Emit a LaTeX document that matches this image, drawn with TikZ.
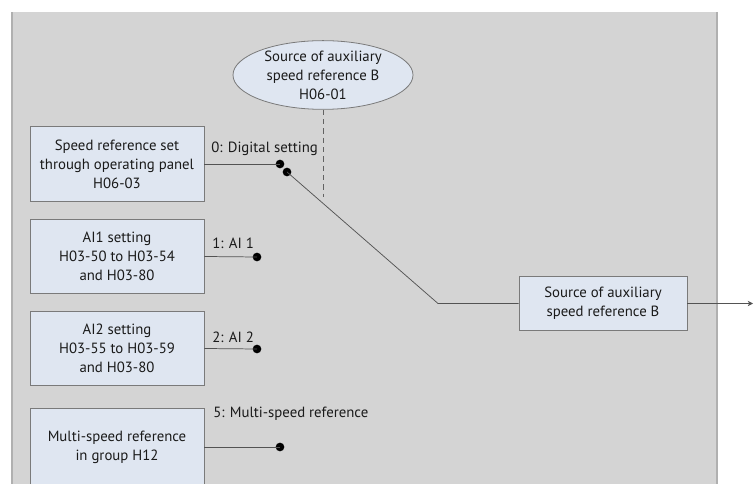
\documentclass[tikz,border=0pt]{standalone}
\usepackage{fontspec}
\setmainfont{PT Sans}
\usetikzlibrary{shapes.geometric,arrows.meta}
\definecolor{kpanel}{HTML}{D4D4D4}
\definecolor{kedge}{HTML}{B0B0B0}
\definecolor{kbox}{HTML}{DFE6F1}
\definecolor{kline}{HTML}{7A7A7A}
\definecolor{ki}{HTML}{1A1A1A}

\begin{document}
\begin{tikzpicture}[x=0.75pt,y=-0.75pt,
  srcbox/.style={draw=kline,fill=kbox,line width=0.6pt,minimum width=130.5pt,
    minimum height=56pt,align=center,text=ki,inner sep=1pt,
    font=\fontsize{11.1}{14.2}\selectfont},
  srcsel/.style={ellipse,draw=kline,fill=kbox,line width=0.6pt,minimum width=135pt,
    minimum height=47pt,align=center,text=ki,inner sep=0pt,
    font=\fontsize{11.1}{14.2}\selectfont},
  wire/.style={draw=ki!75,line width=0.55pt},
  contact/.style={circle,fill=black,inner sep=0pt,minimum size=6.5pt},
  choice/.style={anchor=west,text=ki,inner sep=0pt,font=\fontsize{11.1}{14.2}\selectfont}]
  \useasboundingbox (0,0) rectangle (754,484);
  \clip (0,0) rectangle (754,484);

  % grey background panel
  \fill[kpanel] (12,12) rectangle (718,490);
  \fill[kedge] (11,12) rectangle (12.5,490);
  \fill[kedge] (716,12) rectangle (718,490);

  % parameter that selects the source
  \node[srcsel] (sel) at (323,75) {Source of auxiliary\\speed reference B\\H06-01};

  % the four source blocks
  \node[srcbox] (panel) at (117,164) {Speed reference set\\through operating panel\\H06-03};
  \node[srcbox] (ai1)   at (117,256.5) {AI1 setting\\H03-50 to H03-54\\and H03-80};
  \node[srcbox] (ai2)   at (117,348.5) {AI2 setting\\H03-55 to H03-59\\and H03-80};
  \node[srcbox,minimum height=58.5pt] (multi) at (117,447) {Multi-speed reference\\in group H12};

  % result block
  \node[srcbox,minimum width=126pt,minimum height=41pt] (auxB) at (603,303.5)
    {Source of auxiliary\\speed reference B};

  % switch contacts
  \node[contact] (c0) at (280,164) {};
  \node[contact] (c1) at (257,257) {};
  \node[contact] (c2) at (257,349) {};
  \node[contact] (c5) at (280,447) {};
  \node[contact] (arm) at (287,172) {};

  \draw[wire] (panel.east) -- (c0.center);
  \draw[wire] (ai1.east) -- (c1.center);
  \draw[wire] (ai2.east) -- (c2.center);
  \draw[wire] (multi.east) -- (c5.center);

  % choice labels
  \node[choice] (l0) at (211,149) {0: Digital setting};
  \node[choice] (l1) at (212,243) {1: AI 1};
  \node[choice] (l2) at (212,337) {2: AI 2};
  \node[choice] (l5) at (213,414) {5: Multi-speed reference};

  % selector arm and output
  \coordinate (bend) at (438,303.5);
  \coordinate (dashend) at (323,197);
  \coordinate (out) at (753,303.5);
  \draw[wire] (arm.center) -- (bend) -- (auxB.west);
  \draw[kline!80!black,line width=0.6pt,dash pattern=on 4pt off 3pt] (sel.south) -- (dashend);
  \draw[wire,-{Stealth[length=4pt,width=4pt]}] (auxB.east) -- (out);

\end{tikzpicture}
\end{document}
